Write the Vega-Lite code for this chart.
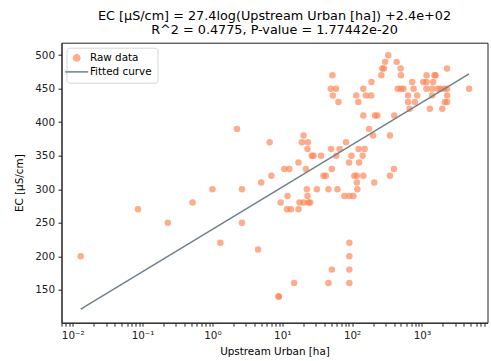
{
  "$schema": "https://vega.github.io/schema/vega-lite/v6.json",
  "width": 426,
  "height": 280,
  "autosize": "none",
  "padding": {"left": 61.5, "top": 42.7, "right": 3.5, "bottom": 38.3},
  "background": "white",
  "title": {
    "text": ["EC [μS/cm] = 27.4log(Upstream Urban [ha]) +2.4e+02", "R^2 = 0.4775, P-value = 1.77442e-20"],
    "font": "DejaVu Sans",
    "fontSize": 12.8,
    "fontWeight": "normal",
    "color": "black",
    "anchor": "middle",
    "offset": 6,
    "lineHeight": 13.5
  },
  "datasets": {
    "raw": [
      {"area": 0.013, "ec": 200, "series": "Raw data"},
      {"area": 0.086, "ec": 270, "series": "Raw data"},
      {"area": 0.23, "ec": 250, "series": "Raw data"},
      {"area": 0.52, "ec": 280, "series": "Raw data"},
      {"area": 1.0, "ec": 300, "series": "Raw data"},
      {"area": 2.65, "ec": 300, "series": "Raw data"},
      {"area": 5.0, "ec": 310, "series": "Raw data"},
      {"area": 2.65, "ec": 250, "series": "Raw data"},
      {"area": 1.3, "ec": 220, "series": "Raw data"},
      {"area": 4.5, "ec": 210, "series": "Raw data"},
      {"area": 8.9, "ec": 140, "series": "Raw data"},
      {"area": 8.9, "ec": 140, "series": "Raw data"},
      {"area": 9.5, "ec": 280, "series": "Raw data"},
      {"area": 2.25, "ec": 390, "series": "Raw data"},
      {"area": 6.6, "ec": 370, "series": "Raw data"},
      {"area": 7.0, "ec": 320, "series": "Raw data"},
      {"area": 22.5, "ec": 300, "series": "Raw data"},
      {"area": 45.9, "ec": 300, "series": "Raw data"},
      {"area": 61.7, "ec": 300, "series": "Raw data"},
      {"area": 117, "ec": 310, "series": "Raw data"},
      {"area": 119, "ec": 300, "series": "Raw data"},
      {"area": 208, "ec": 310, "series": "Raw data"},
      {"area": 31.3, "ec": 300, "series": "Raw data"},
      {"area": 23, "ec": 290, "series": "Raw data"},
      {"area": 11.9, "ec": 290, "series": "Raw data"},
      {"area": 77.6, "ec": 290, "series": "Raw data"},
      {"area": 91.4, "ec": 290, "series": "Raw data"},
      {"area": 104.5, "ec": 290, "series": "Raw data"},
      {"area": 17.7, "ec": 280, "series": "Raw data"},
      {"area": 20.2, "ec": 280, "series": "Raw data"},
      {"area": 23.8, "ec": 280, "series": "Raw data"},
      {"area": 25.1, "ec": 280, "series": "Raw data"},
      {"area": 11.7, "ec": 270, "series": "Raw data"},
      {"area": 13.3, "ec": 270, "series": "Raw data"},
      {"area": 17.1, "ec": 270, "series": "Raw data"},
      {"area": 91.4, "ec": 220, "series": "Raw data"},
      {"area": 91.4, "ec": 200, "series": "Raw data"},
      {"area": 51.3, "ec": 180, "series": "Raw data"},
      {"area": 91.4, "ec": 180, "series": "Raw data"},
      {"area": 14.8, "ec": 160, "series": "Raw data"},
      {"area": 45.9, "ec": 160, "series": "Raw data"},
      {"area": 91.4, "ec": 160, "series": "Raw data"},
      {"area": 330, "ec": 500, "series": "Raw data"},
      {"area": 298, "ec": 490, "series": "Raw data"},
      {"area": 435, "ec": 490, "series": "Raw data"},
      {"area": 271, "ec": 480, "series": "Raw data"},
      {"area": 286, "ec": 480, "series": "Raw data"},
      {"area": 496, "ec": 480, "series": "Raw data"},
      {"area": 262, "ec": 470, "series": "Raw data"},
      {"area": 501, "ec": 470, "series": "Raw data"},
      {"area": 2290, "ec": 480, "series": "Raw data"},
      {"area": 1167, "ec": 470, "series": "Raw data"},
      {"area": 1518, "ec": 470, "series": "Raw data"},
      {"area": 1569, "ec": 470, "series": "Raw data"},
      {"area": 190, "ec": 460, "series": "Raw data"},
      {"area": 727, "ec": 460, "series": "Raw data"},
      {"area": 1045, "ec": 460, "series": "Raw data"},
      {"area": 1167, "ec": 460, "series": "Raw data"},
      {"area": 1450, "ec": 460, "series": "Raw data"},
      {"area": 52.3, "ec": 470, "series": "Raw data"},
      {"area": 49.6, "ec": 450, "series": "Raw data"},
      {"area": 58.8, "ec": 450, "series": "Raw data"},
      {"area": 145, "ec": 450, "series": "Raw data"},
      {"area": 450, "ec": 450, "series": "Raw data"},
      {"area": 500, "ec": 450, "series": "Raw data"},
      {"area": 545, "ec": 450, "series": "Raw data"},
      {"area": 760, "ec": 450, "series": "Raw data"},
      {"area": 1160, "ec": 450, "series": "Raw data"},
      {"area": 1400, "ec": 450, "series": "Raw data"},
      {"area": 1690, "ec": 450, "series": "Raw data"},
      {"area": 1850, "ec": 450, "series": "Raw data"},
      {"area": 2080, "ec": 450, "series": "Raw data"},
      {"area": 2300, "ec": 450, "series": "Raw data"},
      {"area": 4740, "ec": 450, "series": "Raw data"},
      {"area": 53, "ec": 440, "series": "Raw data"},
      {"area": 115, "ec": 440, "series": "Raw data"},
      {"area": 158, "ec": 440, "series": "Raw data"},
      {"area": 188, "ec": 440, "series": "Raw data"},
      {"area": 634, "ec": 440, "series": "Raw data"},
      {"area": 857, "ec": 440, "series": "Raw data"},
      {"area": 1400, "ec": 440, "series": "Raw data"},
      {"area": 2300, "ec": 440, "series": "Raw data"},
      {"area": 63.8, "ec": 430, "series": "Raw data"},
      {"area": 123, "ec": 430, "series": "Raw data"},
      {"area": 634, "ec": 430, "series": "Raw data"},
      {"area": 794, "ec": 430, "series": "Raw data"},
      {"area": 2130, "ec": 430, "series": "Raw data"},
      {"area": 2300, "ec": 430, "series": "Raw data"},
      {"area": 665, "ec": 420, "series": "Raw data"},
      {"area": 1300, "ec": 420, "series": "Raw data"},
      {"area": 1960, "ec": 420, "series": "Raw data"},
      {"area": 145, "ec": 410, "series": "Raw data"},
      {"area": 213, "ec": 410, "series": "Raw data"},
      {"area": 230, "ec": 410, "series": "Raw data"},
      {"area": 402, "ec": 410, "series": "Raw data"},
      {"area": 175, "ec": 390, "series": "Raw data"},
      {"area": 200, "ec": 380, "series": "Raw data"},
      {"area": 349, "ec": 380, "series": "Raw data"},
      {"area": 20.2, "ec": 380, "series": "Raw data"},
      {"area": 19.1, "ec": 370, "series": "Raw data"},
      {"area": 23.3, "ec": 370, "series": "Raw data"},
      {"area": 82, "ec": 370, "series": "Raw data"},
      {"area": 23, "ec": 360, "series": "Raw data"},
      {"area": 50.1, "ec": 360, "series": "Raw data"},
      {"area": 66.5, "ec": 360, "series": "Raw data"},
      {"area": 124, "ec": 360, "series": "Raw data"},
      {"area": 151, "ec": 360, "series": "Raw data"},
      {"area": 26.5, "ec": 350, "series": "Raw data"},
      {"area": 28, "ec": 350, "series": "Raw data"},
      {"area": 36, "ec": 350, "series": "Raw data"},
      {"area": 59.5, "ec": 350, "series": "Raw data"},
      {"area": 98, "ec": 350, "series": "Raw data"},
      {"area": 142, "ec": 350, "series": "Raw data"},
      {"area": 17.1, "ec": 340, "series": "Raw data"},
      {"area": 90.6, "ec": 340, "series": "Raw data"},
      {"area": 126, "ec": 340, "series": "Raw data"},
      {"area": 10.7, "ec": 330, "series": "Raw data"},
      {"area": 12.6, "ec": 330, "series": "Raw data"},
      {"area": 21.8, "ec": 330, "series": "Raw data"},
      {"area": 51.3, "ec": 330, "series": "Raw data"},
      {"area": 398, "ec": 330, "series": "Raw data"},
      {"area": 38.9, "ec": 320, "series": "Raw data"},
      {"area": 42.1, "ec": 320, "series": "Raw data"},
      {"area": 108, "ec": 320, "series": "Raw data"},
      {"area": 117, "ec": 320, "series": "Raw data"},
      {"area": 145, "ec": 320, "series": "Raw data"},
      {"area": 349, "ec": 320, "series": "Raw data"}
    ],
    "fit": [
      {"area": 0.013, "ec": 121, "series": "Fitted curve"},
      {"area": 4740, "ec": 472, "series": "Fitted curve"}
    ]
  },
  "encoding": {
    "x": {
      "field": "area",
      "type": "quantitative",
      "scale": {"type": "log", "domain": [0.0069, 8700], "nice": false},
      "axis": {
        "title": "Upstream Urban [ha]",
        "values": [0.007,0.008,0.009,0.01,0.02,0.03,0.04,0.05,0.06,0.07,0.08,0.09,0.1,0.2,0.3,0.4,0.5,0.6,0.7,0.8,0.9,1,2,3,4,5,6,7,8,9,10,20,30,40,50,60,70,80,90,100,200,300,400,500,600,700,800,900,1000,2000,3000,4000,5000,6000,7000,8000],
        "labelExpr": "datum.value == 0.01 ? '10⁻²' : datum.value == 0.1 ? '10⁻¹' : datum.value == 1 ? '10⁰' : datum.value == 10 ? '10¹' : datum.value == 100 ? '10²' : datum.value == 1000 ? '10³' : ''",
        "tickSize": 3.5,
        "labelPadding": 4,
        "titlePadding": 6,
        "encode": {
          "ticks": {"update": {"y2": {"signal": "(datum.value == 0.01 || datum.value == 0.1 || datum.value == 1 || datum.value == 10 || datum.value == 100 || datum.value == 1000) ? 3.5 : 2"}}}
        }
      }
    },
    "y": {
      "field": "ec",
      "type": "quantitative",
      "scale": {"domain": [100.8, 518.6], "nice": false, "zero": false},
      "axis": {
        "title": "EC [μS/cm]",
        "values": [150,200,250,300,350,400,450,500],
        "tickSize": 3.5,
        "labelPadding": 3.5,
        "titlePadding": 10
      }
    },
    "color": {
      "field": "series",
      "type": "nominal",
      "scale": {"domain": ["Raw data", "Fitted curve"], "range": ["#FF7F50", "#708090"]},
      "legend": {
        "title": null,
        "orient": "top-left",
        "offset": 5,
        "padding": 5,
        "strokeColor": "#d5d5d5",
        "fillColor": "rgba(255,255,255,0.8)",
        "cornerRadius": 3,
        "labelFont": "DejaVu Sans",
        "labelFontSize": 10.4,
        "labelColor": "black",
        "symbolSize": 529,
        "labelOffset": 8,
        "rowPadding": 2,
        "symbolStrokeWidth": 1.5,
        "encode": {
          "symbols": {
            "update": {
              "shape": {"signal": "datum.value === 'Fitted curve' ? 'stroke' : 'circle'"},
              "size": {"signal": "datum.value === 'Fitted curve' ? 529 : 40"},
              "fill": {"signal": "datum.value === 'Fitted curve' ? 'transparent' : '#FF7F50'"},
              "stroke": {"signal": "datum.value === 'Fitted curve' ? '#708090' : 'transparent'"},
              "strokeWidth": {"value": 1.5},
              "opacity": {"signal": "datum.value === 'Fitted curve' ? 1 : 0.65"}
            }
          }
        }
      }
    }
  },
  "layer": [
    {
      "data": {"name": "raw"},
      "mark": {"type": "point", "filled": true, "opacity": 0.65, "size": 42}
    },
    {
      "data": {"name": "fit"},
      "mark": {"type": "line", "strokeWidth": 1.5}
    }
  ],
  "config": {
    "font": "DejaVu Sans",
    "view": {"stroke": "#222", "strokeWidth": 1},
    "axis": {
      "grid": false,
      "domainColor": "#222",
      "domainWidth": 1,
      "tickColor": "#222",
      "tickWidth": 1,
      "labelFont": "DejaVu Sans",
      "labelFontSize": 10.4,
      "labelColor": "#222",
      "titleFont": "DejaVu Sans",
      "titleFontSize": 10.4,
      "titleFontWeight": "normal",
      "titleColor": "black"
    }
  }
}
